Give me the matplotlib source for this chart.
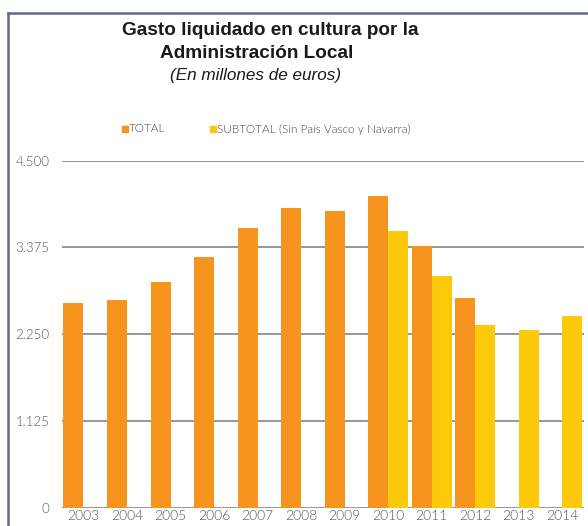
import matplotlib.pyplot as plt
import numpy as np
from matplotlib.patches import Rectangle
from matplotlib.lines import Line2D

years = ["2003", "2004", "2005", "2006", "2007", "2008", "2009",
         "2010", "2011", "2012", "2013", "2014"]
total = [2650, 2690, 2930, 3255, 3625, 3880, 3845, 4040, 3395, 2725, np.nan, np.nan]
subtotal = [np.nan] * 7 + [3590, 3010, 2375, 2305, 2490]
yticks = [0, 1125, 2250, 3375, 4500]
ytick_labels = ["0", "1.125", "2.250", "3.375", "4.500"]

orange = "#F7941E"
yellow = "#FDC90B"
grid_col = "#999999"
label_col = "#555555"

fig = plt.figure(figsize=(5.88, 5.26), dpi=100)
ax = fig.add_axes([0.105, 0.035, 0.888, 0.6595])

x = np.arange(len(years))
w = 0.46
ax.bar(x - w / 2, total, w, color=orange, zorder=3)
ax.bar(x + w / 2, subtotal, w, color=yellow, zorder=3)

ax.set_xlim(-0.5, len(years) - 0.5)
ax.set_ylim(0, 4500)
ax.set_yticks(yticks)
ax.set_yticklabels(ytick_labels)
ax.set_xticks(x)
ax.set_xticklabels(years)
ax.grid(axis="y", color=grid_col, linewidth=1.44, zorder=0)
ax.set_axisbelow(True)
for s in ax.spines.values():
    s.set_visible(False)
ax.tick_params(axis="both", length=0, colors=label_col)
ax.tick_params(axis="y", pad=9, labelsize=9.5)
ax.tick_params(axis="x", pad=2, labelsize=10)
for t in ax.get_xticklabels() + ax.get_yticklabels():
    t.set_fontfamily("Lato")
    t.set_fontweight(300)

# titles
fig.text(0.459, 0.942, "Gasto liquidado en cultura por la", ha="center", va="center",
         fontsize=13.7, fontweight="bold", family="Liberation Sans", color="#1a1a1a")
fig.text(0.436, 0.898, "Administración Local", ha="center", va="center",
         fontsize=13.7, fontweight="bold", family="Liberation Sans", color="#1a1a1a")
fig.text(0.434, 0.857, "(En millones de euros)", ha="center", va="center",
         fontsize=12.3, style="italic", family="Liberation Sans", color="#1a1a1a")

# legend
fig.add_artist(Rectangle((122 / 588, 1 - 132 / 526), 6 / 588, 6 / 526,
                         transform=fig.transFigure, color=orange))
fig.text(129 / 588, 1 - 129 / 526, "TOTAL", ha="left", va="center",
         fontsize=8.5, family="Lato", fontweight=300, color="#444444")
fig.add_artist(Rectangle((210 / 588, 1 - 132 / 526), 6 / 588, 6 / 526,
                         transform=fig.transFigure, color=yellow))
fig.text(217 / 588, 1 - 129 / 526, "SUBTOTAL (Sin País Vasco y Navarra)", ha="left",
         va="center", fontsize=8.5, family="Lato", fontweight=300, color="#444444")

# frame on the top and left edges
frame = dict(color="#5B6B84", linewidth=1.8, transform=fig.transFigure)
fig.add_artist(Line2D([8 / 588, 8 / 588], [0, 1 - 12.5 / 526], **frame))
fig.add_artist(Line2D([8 / 588, 1], [1 - 12.5 / 526, 1 - 12.5 / 526], **frame))

fig.savefig("out.png", dpi=100)
